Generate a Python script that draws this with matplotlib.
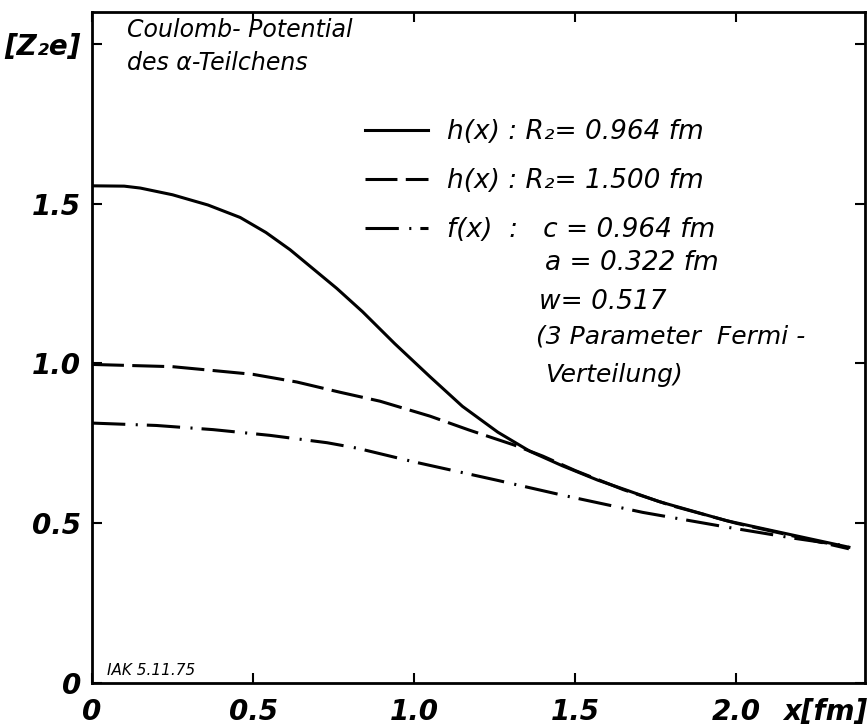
import matplotlib
matplotlib.use("Agg")
import matplotlib.pyplot as plt

# values
x_h1 = [0.0, 0.10, 0.15, 0.25, 0.36, 0.46, 0.54, 0.615, 0.76, 0.84, 0.94, 1.05,
        1.15, 1.26, 1.36, 1.46, 1.57, 1.67, 1.76, 1.97, 2.18, 2.35]
y_h1 = [1.556, 1.555, 1.549, 1.528, 1.496, 1.457, 1.41, 1.356, 1.235, 1.162,
        1.062, 0.958, 0.866, 0.785, 0.725, 0.68, 0.635, 0.60, 0.568, 0.508,
        0.462, 0.425]

x_h2 = [0.0, 0.25, 0.376, 0.50, 0.636, 0.77, 0.894, 1.05, 1.17, 1.31, 1.40,
        1.50, 1.65, 1.80, 2.00, 2.20, 2.35]
y_h2 = [0.997, 0.99, 0.978, 0.966, 0.942, 0.91, 0.882, 0.835, 0.792, 0.745,
        0.71, 0.665, 0.605, 0.555, 0.50, 0.455, 0.42]

x_f = [0.0, 0.2, 0.376, 0.553, 0.73, 0.823, 1.0, 1.26, 1.46, 1.71, 1.97, 2.18,
       2.35]
y_f = [0.8135, 0.806, 0.793, 0.775, 0.752, 0.735, 0.692, 0.634, 0.588, 0.534,
       0.488, 0.453, 0.428]

labels = ["h(x) : R\u2082= 0.964 fm",
          "h(x) : R\u2082= 1.500 fm",
          "f(x)  :   c = 0.964 fm"]
extra = ["a = 0.322 fm", "w= 0.517", "(3 Parameter  Fermi -", "Verteilung)"]

xticks = [0, 0.5, 1.0, 1.5, 2.0]
xticklabels = ["0", "0.5", "1.0", "1.5", "2.0"]
yticks = [0, 0.5, 1.0, 1.5, 2.0]
yticklabels = ["0", "0.5", "1.0", "1.5", "[Z\u2082e]"]

plt.rcParams['font.family'] = ['DejaVu Sans']
plt.rcParams['lines.scale_dashes'] = False

fig = plt.figure(figsize=(8.67, 7.27), dpi=100)
ax = fig.add_axes([0.1061, 0.0605, 0.8916, 0.923])

lw = 2.2
ax.plot(x_h1, y_h1, color='black', lw=lw, label=labels[0])
ax.plot(x_h2, y_h2, color='black', lw=lw, dashes=(23, 6), label=labels[1])
ax.plot(x_f, y_f, color='black', lw=lw, dashes=(24, 7.5, 1.5, 6.5), label=labels[2])

ax.set_xlim(0, 2.4)
ax.set_ylim(0, 2.1)
ax.set_xticks(xticks)
ax.set_xticklabels(xticklabels)
ax.set_yticks(yticks)
ax.set_yticklabels(yticklabels)
for lab in ax.get_xticklabels() + ax.get_yticklabels():
    lab.set_fontstyle('italic')
    lab.set_fontsize(20)
    lab.set_fontweight('bold')
ax.tick_params(direction='in', length=7, width=1.5, top=True, right=True,
               labeltop=False, labelright=False)
ax.tick_params(axis='x', pad=11)
ax.tick_params(axis='y', pad=8)
for sp in ax.spines.values():
    sp.set_linewidth(2)

# axis unit at the end of the x tick row
ax.annotate("x[fm]", xy=(2.276, 0), xycoords=('data', 'axes fraction'),
            xytext=(0, -11), textcoords='offset points', fontsize=20,
            style='italic', fontweight='bold', ha='center', va='top')

ax.text(0.045, 0.973, "Coulomb- Potential", transform=ax.transAxes,
        fontsize=17, style='italic', va='center')
ax.text(0.045, 0.924, "des \u03b1-Teilchens", transform=ax.transAxes,
        fontsize=17, style='italic', va='center')
ax.text(0.019, 0.018, "IAK 5.11.75", transform=ax.transAxes,
        fontsize=11, style='italic', va='center')

leg = ax.legend(loc='upper left', bbox_to_anchor=(0.353, 0.840), frameon=False,
                fontsize=19, handlelength=2.4, handletextpad=0.7,
                labelspacing=0.86, borderpad=0, borderaxespad=0)
for t in leg.get_texts():
    t.set_fontstyle('italic')

ax.text(0.586, 0.626, extra[0], transform=ax.transAxes, fontsize=19,
        style='italic', va='center')
ax.text(0.578, 0.568, extra[1], transform=ax.transAxes, fontsize=19,
        style='italic', va='center')
ax.text(0.574, 0.516, extra[2], transform=ax.transAxes, fontsize=18,
        style='italic', va='center')
ax.text(0.586, 0.459, extra[3], transform=ax.transAxes, fontsize=18,
        style='italic', va='center')

fig.savefig("out.png", dpi=100)
